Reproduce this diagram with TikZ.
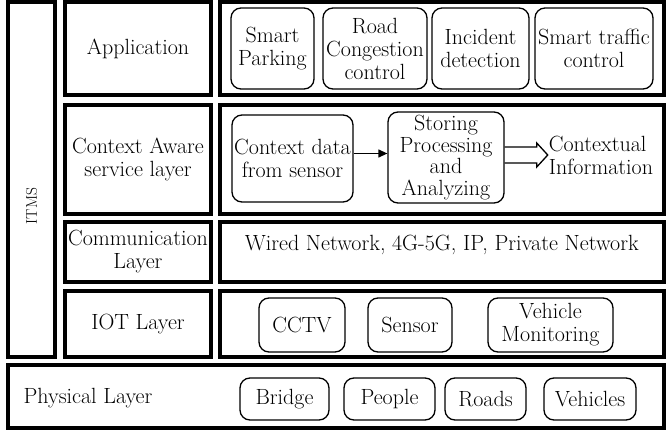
\documentclass[tikz,border=0pt]{standalone}
\usepackage{fontspec}
\usetikzlibrary{positioning}
\usetikzlibrary{arrows.meta,calc}

\begin{document}
\begin{tikzpicture}[x=1pt,y=1pt,
    every node/.style={font=\fontsize{22}{23}\selectfont},
    layer/.style={rectangle,draw,line width=4pt,align=center,inner sep=1pt},
    box/.style={rectangle,draw,rounded corners=10pt,line width=1.3pt,align=center,inner sep=1pt}]

      \useasboundingbox (0,0) rectangle (672,432);

      % 1. Spalte
      \node[layer,minimum width=47pt,minimum height=355pt] (ITMS) at (31.5,252.5) {};
      \node[rotate=90,font=\fontsize{15.5}{18}\selectfont] (ITMSlabel) [below=26.5pt of ITMS.center,anchor=center] {ITMS};

      % 2. Spalte
      \node[layer,minimum width=146pt,minimum height=93pt]    (appL) [above right=131pt and 106.5pt of ITMS.center,anchor=center] {Application};
      \node[layer,minimum width=146pt,minimum height=108.5pt] (ctxL) [below=110.75pt of appL.center,anchor=center] {Context Aware\\service layer};
      \node[layer,minimum width=146pt,minimum height=60pt]    (comL) [below=92.75pt of ctxL.center,anchor=center] {Communication\\Layer};
      \node[layer,minimum width=146pt,minimum height=66pt]    (iotL) [below=72pt of comL.center,anchor=center] {IOT Layer};

      % 3. Spalte
      \node[layer,minimum width=443.5pt,minimum height=93pt]    (appR) [right=303.75pt of appL.center,anchor=center] {};
      \node[layer,minimum width=443.5pt,minimum height=108.5pt] (ctxR) [right=303.75pt of ctxL.center,anchor=center] {};
      \node[layer,minimum width=443.5pt,minimum height=60pt]    (comR) [right=303.75pt of comL.center,anchor=center] {};
      \node[layer,minimum width=443.5pt,minimum height=66pt]    (iotR) [right=303.75pt of iotL.center,anchor=center] {};

      % Physical Layer
      \node[layer,minimum width=656pt,minimum height=63pt] (phys) [below right=72.5pt and 197.5pt of iotL.center,anchor=center] {};
      \node (physlabel) [below left=1.5pt and 247.5pt of phys.center,anchor=center] {Physical Layer};

      % Application
      \node[box,minimum width=83pt,minimum height=81pt]  (park)  [left=169.25pt of appR.center,anchor=center] {Smart\\Parking};
      \node[box,minimum width=104pt,minimum height=81pt] (road)  [right=102.5pt of park.center,anchor=center] {Road\\Congestion\\control};
      \node[box,minimum width=97pt,minimum height=81pt]  (incid) [right=105.5pt of road.center,anchor=center] {Incident\\detection};
      \node[box,minimum width=118pt,minimum height=81pt] (smtc)  [right=113.5pt of incid.center,anchor=center] {Smart traffic\\control};

      % Context Aware
      \node[box,minimum width=121pt,minimum height=87pt] (ctxdata) [above left=0.75pt and 149.25pt of ctxR.center,anchor=center] {Context data\\from sensor};
      \node[box,minimum width=116pt,minimum height=91pt,font=\fontsize{22}{21.5}\selectfont] (store) [above right=1pt and 153.5pt of ctxdata.center,anchor=center] {Storing\\Processing\\and\\Analyzing};
      \node[align=left,inner sep=1pt] (info) [above right=2.5pt and 155pt of store.center,anchor=center] {Contextual\\Information};

      % Communication
      \node (wired) [above=7pt of comR.center,anchor=center] {Wired Network, 4G-5G, IP, Private Network};

      % IOT
      \node[box,minimum width=86pt,minimum height=54pt]  (cctv)   [below left=1pt and 139.75pt of iotR.center,anchor=center] {CCTV};
      \node[box,minimum width=84pt,minimum height=54pt]  (sensor) [right=108pt of cctv.center,anchor=center] {Sensor};
      \node[box,minimum width=125pt,minimum height=54pt] (vmon)   [right=140.5pt of sensor.center,anchor=center] {Vehicle\\Monitoring};

      % Physical
      \node[box,minimum width=89pt,minimum height=42pt] (bridge)   [below left=2.5pt and 51pt of phys.center,anchor=center] {Bridge};
      \node[box,minimum width=91pt,minimum height=42pt] (people)   [right=105pt of bridge.center,anchor=center] {People};
      \node[box,minimum width=81pt,minimum height=42pt] (roads)    [right=96pt of people.center,anchor=center] {Roads};
      \node[box,minimum width=92pt,minimum height=42pt] (vehicles) [right=104.5pt of roads.center,anchor=center] {Vehicles};

      \draw[-{Triangle[length=9pt,width=8pt]},line width=1.3pt]
        ([yshift=5pt]ctxdata.east) -- ([yshift=4pt]store.west);

      \draw[line width=1.3pt,line join=miter]
        ($(store.east |- info.west)+(0,8)$) -- ($(info.west)+(-11,8)$) -- ($(info.west)+(-11,12)$)
        -- (info.west)
        -- ($(info.west)+(-11,-12)$) -- ($(info.west)+(-11,-8)$) -- ($(store.east |- info.west)+(0,-8)$);

\end{tikzpicture}
\end{document}
